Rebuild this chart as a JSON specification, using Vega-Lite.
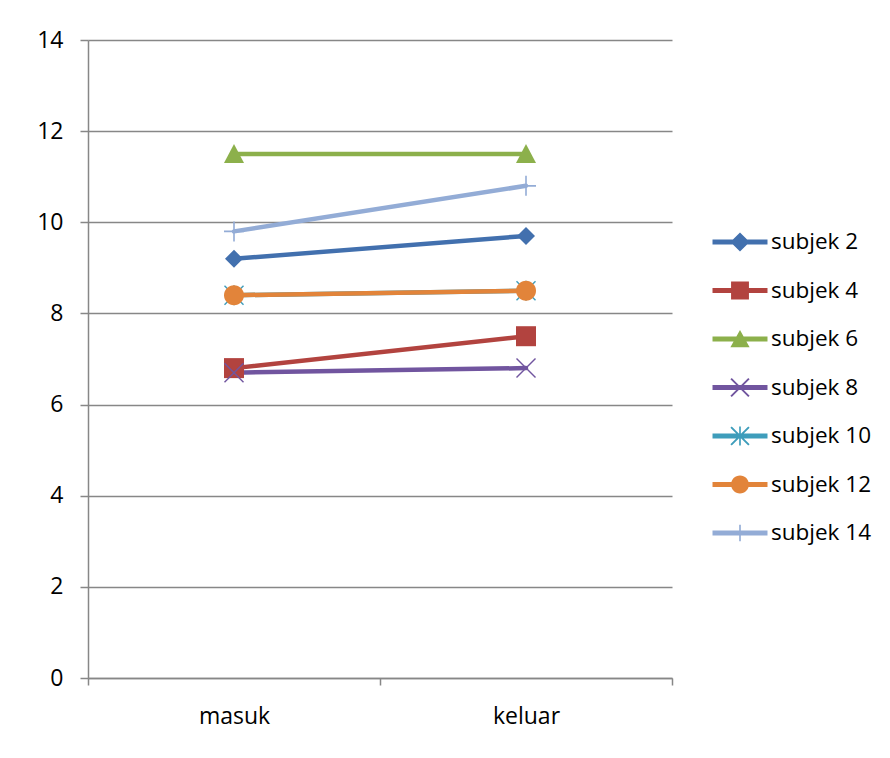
{
  "$schema": "https://vega.github.io/schema/vega-lite/v6.json",
  "autosize": {"type": "none"},
  "padding": {"left": 88, "top": 40, "right": 218, "bottom": 80},
  "width": 584,
  "height": 638,
  "background": "white",
  "config": {
    "view": {"stroke": null},
    "font": "Open Sans",
    "axis": {"labelFont": "Open Sans", "labelColor": "#000000", "labelFontSize": 23, "domainColor": "#878787", "tickColor": "#878787", "gridColor": "#878787", "domainWidth": 1.5, "tickWidth": 1.5, "gridWidth": 1.5}
  },
  "data": {
    "values": [
      {"series": "subjek 2", "time": "masuk", "value": 9.2},
      {"series": "subjek 2", "time": "keluar", "value": 9.7},
      {"series": "subjek 4", "time": "masuk", "value": 6.8},
      {"series": "subjek 4", "time": "keluar", "value": 7.5},
      {"series": "subjek 6", "time": "masuk", "value": 11.5},
      {"series": "subjek 6", "time": "keluar", "value": 11.5},
      {"series": "subjek 8", "time": "masuk", "value": 6.7},
      {"series": "subjek 8", "time": "keluar", "value": 6.8},
      {"series": "subjek 10", "time": "masuk", "value": 8.4},
      {"series": "subjek 10", "time": "keluar", "value": 8.5},
      {"series": "subjek 12", "time": "masuk", "value": 8.4},
      {"series": "subjek 12", "time": "keluar", "value": 8.5},
      {"series": "subjek 14", "time": "masuk", "value": 9.8},
      {"series": "subjek 14", "time": "keluar", "value": 10.8}
    ]
  },
  "encoding": {
    "x": {
      "field": "time", "type": "nominal", "sort": ["masuk", "keluar"],
      "scale": {"type": "band", "paddingInner": 0, "paddingOuter": 0},
      "axis": {"title": null, "labelAngle": 0, "tickBand": "extent", "tickSize": 7, "labelPadding": 20, "grid": false}
    },
    "y": {
      "field": "value", "type": "quantitative",
      "scale": {"domain": [0, 14], "nice": false},
      "axis": {"title": null, "values": [0, 2, 4, 6, 8, 10, 12, 14], "tickSize": 8, "labelPadding": 17, "grid": true}
    }
  },
  "layer": [
    {
      "mark": {"type": "line", "strokeWidth": 4.5, "strokeCap": "round", "strokeJoin": "round"},
      "encoding": {
        "color": {
          "field": "series", "type": "nominal", "legend": null,
          "scale": {
            "domain": ["subjek 2", "subjek 4", "subjek 6", "subjek 8", "subjek 10", "subjek 12", "subjek 14"],
            "range": ["#4270AE", "#B2433F", "#8CB04B", "#71559F", "#3E9DBB", "#E2843A", "#93ACD6"]
          }
        }
      }
    },
    {
      "mark": {"type": "point", "filled": true, "size": 400, "opacity": 1, "strokeWidth": 0},
      "encoding": {
        "color": {
          "field": "series", "type": "nominal", "legend": null,
          "scale": {
            "domain": ["subjek 2", "subjek 4", "subjek 6", "subjek 8", "subjek 10", "subjek 12", "subjek 14"],
            "range": ["#4270AE", "#B2433F", "#8CB04B", "#71559F", "#3E9DBB", "#E2843A", "#93ACD6"]
          }
        },
        "shape": {
          "field": "series", "type": "nominal", "legend": null,
          "scale": {
            "domain": ["subjek 2", "subjek 4", "subjek 6", "subjek 8", "subjek 10", "subjek 12", "subjek 14"],
            "range": [
              "M0,-0.9L0.9,0L0,0.9L-0.9,0Z",
              "M-1,-1H1V1H-1Z",
              "M0,-1L1,0.9H-1Z",
              "M-0.9,-1L1,0.9L0.9,1L-1,-0.9Z M0.9,-1L1,-0.9L-0.9,1L-1,0.9Z",
              "M-0.9,-1L1,0.9L0.9,1L-1,-0.9Z M0.9,-1L1,-0.9L-0.9,1L-1,0.9Z M-0.07,-1H0.07V1H-0.07Z",
              "M-1,0A1,1,0,1,1,1,0A1,1,0,1,1,-1,0Z",
              "M-1,-0.08H1V0.08H-1Z M-0.08,-1H0.08V1H-0.08Z"
            ]
          }
        }
      }
    },
    {
      "mark": {"type": "point", "filled": true, "size": 0, "opacity": 1, "strokeWidth": 0},
      "encoding": {
        "color": {
          "field": "series", "type": "nominal",
          "scale": {
            "domain": ["subjek 2", "subjek 4", "subjek 6", "subjek 8", "subjek 10", "subjek 12", "subjek 14"],
            "range": ["#4270AE", "#B2433F", "#8CB04B", "#71559F", "#3E9DBB", "#E2843A", "#93ACD6"]
          },
          "legend": {
            "title": null, "orient": "none", "legendX": 638, "legendY": 188,
            "symbolSize": 756, "symbolStrokeWidth": 0, "symbolOpacity": 1,
            "labelFont": "Open Sans", "labelFontSize": 22.5, "labelColor": "#000000",
            "labelOffset": 17, "rowPadding": 22.5, "padding": 0, "labelLimit": 300
          }
        },
        "shape": {
          "field": "series", "type": "nominal",
          "scale": {
            "domain": ["subjek 2", "subjek 4", "subjek 6", "subjek 8", "subjek 10", "subjek 12", "subjek 14"],
            "range": [
              "M-2,-0.18H2V0.18H-2Z M0,-0.7L0.7,0L0,0.7L-0.7,0Z",
              "M-2,-0.18H2V0.18H-2Z M-0.65,-0.65H0.65V0.65H-0.65Z",
              "M-2,-0.18H2V0.18H-2Z M0,-0.65L0.7,0.6H-0.7Z",
              "M-2,-0.18H2V0.18H-2Z M-0.6,-0.7L0.7,0.6L0.6,0.7L-0.7,-0.6Z M0.6,-0.7L0.7,-0.6L-0.6,0.7L-0.7,0.6Z",
              "M-2,-0.18H2V0.18H-2Z M-0.6,-0.7L0.7,0.6L0.6,0.7L-0.7,-0.6Z M0.6,-0.7L0.7,-0.6L-0.6,0.7L-0.7,0.6Z M-0.06,-0.7H0.06V0.7H-0.06Z",
              "M-2,-0.18H2V0.18H-2Z M-0.65,0A0.65,0.65,0,1,1,0.65,0A0.65,0.65,0,1,1,-0.65,0Z",
              "M-2,-0.18H2V0.18H-2Z M-0.06,-0.6H0.06V0.6H-0.06Z"
            ]
          },
          "legend": {
            "title": null, "orient": "none", "legendX": 638, "legendY": 188,
            "symbolSize": 756, "symbolStrokeWidth": 0, "symbolOpacity": 1,
            "labelFont": "Open Sans", "labelFontSize": 22.5, "labelColor": "#000000",
            "labelOffset": 17, "rowPadding": 22.5, "padding": 0, "labelLimit": 300
          }
        }
      }
    }
  ],
  "resolve": {"scale": {"color": "independent", "shape": "independent"}}
}
